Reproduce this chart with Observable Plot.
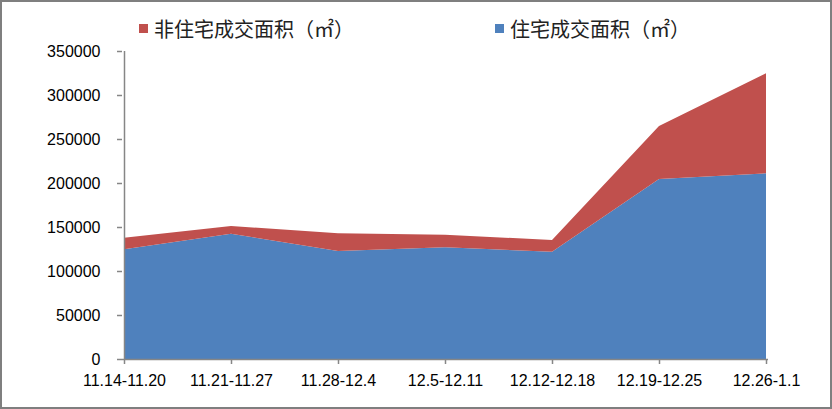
<!DOCTYPE html>
<html>
<head>
<meta charset="utf-8">
<script src="https://cdn.jsdelivr.net/npm/d3@7"></script>
<script src="https://cdn.jsdelivr.net/npm/@observablehq/plot@0.6"></script>
<style>
  body { margin: 0; background: #fff; }
  #wrap { position: relative; width: 832px; height: 409px; overflow: hidden; }
  #frame { position: absolute; left: 0; top: 0; width: 832px; height: 409px; box-sizing: border-box; border: 2px solid #7f7f7f; pointer-events: none; }
  .leg { position: absolute; top: 17px; font: 20px "Noto Sans CJK SC", sans-serif; color: #222; line-height: 24px; white-space: nowrap; }
  .sw { display: inline-block; width: 9px; height: 9px; margin-right: 6px; vertical-align: 4px; }
  svg { position: absolute; left: 0; top: 0; }
</style>
</head>
<body>
<div id="wrap">
  <div class="leg" style="left:139px"><span class="sw" style="background:#C0504D"></span>非住宅成交面积（㎡）</div>
  <div class="leg" style="left:495px"><span class="sw" style="background:#4F81BD"></span>住宅成交面积（㎡）</div>
  <div id="chart"></div>
  <div id="frame"></div>
</div>
<script>
const categories = ["11.14-11.20", "11.21-11.27", "11.28-12.4", "12.5-12.11", "12.12-12.18", "12.19-12.25", "12.26-1.1"];
const residential = [124600, 142400, 122700, 126900, 121900, 204500, 211000];
const nonResidential = [13200, 8700, 20100, 14400, 13300, 60300, 113700];
const seriesNames = ["住宅成交面积（㎡）", "非住宅成交面积（㎡）"];
const seriesColors = ["#4F81BD", "#C0504D"];
const yTicks = [0, 50000, 100000, 150000, 200000, 250000, 300000, 350000];

const data = [];
categories.forEach((c, i) => {
  data.push({week: c, type: seriesNames[0], value: residential[i]});
  data.push({week: c, type: seriesNames[1], value: nonResidential[i]});
});

const axisColor = "#868686";
const plot = Plot.plot({
  width: 832,
  height: 409,
  marginLeft: 122,
  marginRight: 64,
  marginTop: 51,
  marginBottom: 50,
  style: {background: "transparent", overflow: "visible"},
  x: {type: "point", domain: categories, padding: 0, label: null},
  y: {domain: [0, 350000], label: null},
  color: {domain: seriesNames, range: seriesColors},
  marks: [
    Plot.areaY(data, {x: "week", y: "value", fill: "type", order: seriesNames, curve: "linear"}),
    Plot.ruleX([categories[0]], {y1: 0, y2: 350000, stroke: axisColor, strokeWidth: 1.5}),
    Plot.ruleY([0], {stroke: axisColor, strokeWidth: 1.5}),
    Plot.axisY({ticks: yTicks, tickFormat: d => String(d), tickSize: 5, stroke: axisColor, strokeWidth: 1.5, tickPadding: 17,
      fontSize: 16, fontFamily: "Liberation Sans, sans-serif", fill: "#000", color: "#000", label: null}),
    Plot.axisX({tickSize: 5, stroke: axisColor, strokeWidth: 1.5, tickPadding: 10,
      fontSize: 16, fontFamily: "Liberation Sans, sans-serif", fill: "#000", label: null})
  ]
});
document.getElementById("chart").appendChild(plot);
</script>
</body>
</html>
